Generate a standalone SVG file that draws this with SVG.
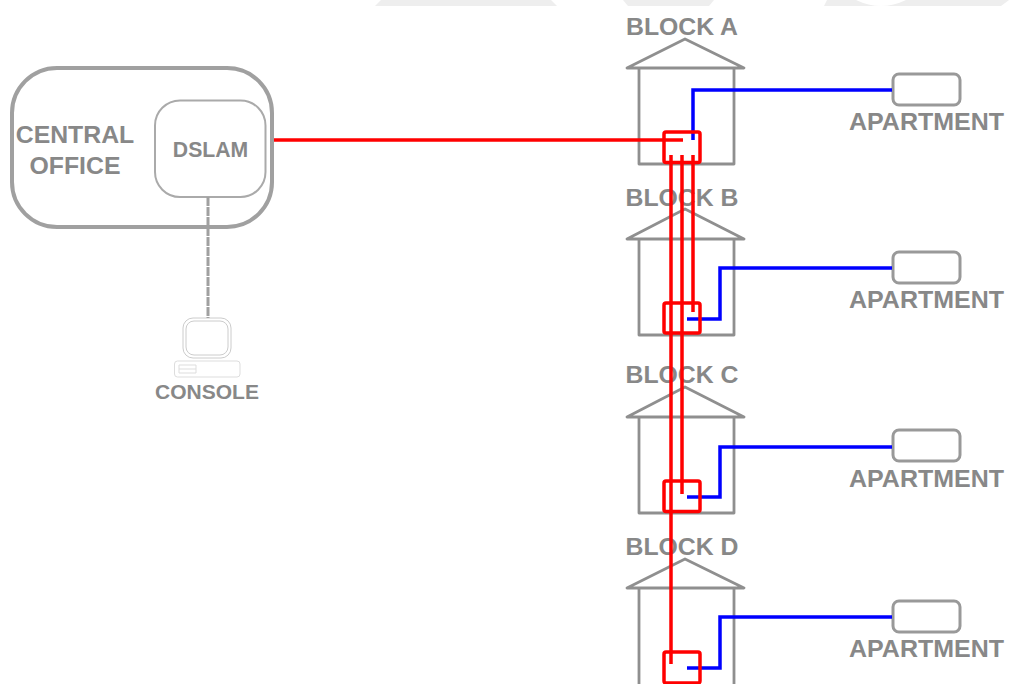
<svg xmlns="http://www.w3.org/2000/svg" width="1009" height="684" viewBox="0 0 1009 684">
<style>
text{font-family:"Liberation Sans",Arial,sans-serif;font-weight:700;fill:#888;text-anchor:middle}
.l{font-size:24.8px}
.house{fill:none;stroke:#8f8f8f;stroke-width:2.8;stroke-linejoin:round}
.apt{fill:#fff;stroke:#999;stroke-width:3}
.box{fill:none;stroke:#f00;stroke-width:3.500}
.red{fill:none;stroke:#f00;stroke-width:3.500}
.blue{fill:none;stroke:#00f;stroke-width:3.500}
</style>
<rect width="1009" height="684" fill="#fff"/>
<g id="background" fill="#eee">
<polygon points="381,0 551,0 557,6 375,6"/>
<polygon points="623,0 714,0 709,6 628,6"/>
<path d="M827,0H856Q881,12 906,0H1009L1001,6H824Z"/>
</g>
<g id="central-office">
<rect x="12" y="68" width="260" height="159" rx="45" fill="#fff" stroke="#a0a0a0" stroke-width="4"/>
<text class="l" x="75" y="143">CENTRAL</text>
<text class="l" x="75" y="174">OFFICE</text>
</g>
<g id="dslam">
<rect x="155" y="100.500" width="110.500" height="96.500" rx="25" fill="#fff" stroke="#aaa" stroke-width="2"/>
<text x="210.500" y="157" font-size="21.200">DSLAM</text>
</g>
<g id="console">
<rect x="183" y="318" width="48" height="40" rx="10" fill="#fff" stroke="#ccc"/>
<rect x="186" y="321" width="42" height="34" rx="8" fill="#fff" stroke="#ccc"/>
<rect x="174.500" y="361" width="65.500" height="16" rx="3" fill="#fff" stroke="#ddd"/>
<path d="M179,365H196V373H179ZM179,369H196" fill="none" stroke="#ddd"/>
<text x="207" y="399" font-size="21">CONSOLE</text>
</g>
<g id="block-a">
<text class="l" x="682" y="35">BLOCK A</text>
<path class="house" d="M627,68L685,39L744,68ZM639,68V164H734V68"/>
</g>
<g id="block-b">
<text class="l" x="682" y="206">BLOCK B</text>
<path class="house" d="M627,239L685,209L744,239ZM639,239V335H734V239"/>
</g>
<g id="block-c">
<text class="l" x="682" y="383">BLOCK C</text>
<path class="house" d="M627,417L685,387L744,417ZM639,417V513H734V417"/>
</g>
<g id="block-d">
<text class="l" x="682" y="555">BLOCK D</text>
<path class="house" d="M627,588L685,559L744,588ZM639,588V690H734V588"/>
</g>
<g id="apartment-a">
<rect class="apt" x="893" y="74" width="67" height="31" rx="6"/>
<text class="l" x="926.500" y="130" textLength="155" lengthAdjust="spacingAndGlyphs">APARTMENT</text>
</g>
<g id="apartment-b">
<rect class="apt" x="893" y="252" width="67" height="31" rx="6"/>
<text class="l" x="926.500" y="308" textLength="155" lengthAdjust="spacingAndGlyphs">APARTMENT</text>
</g>
<g id="apartment-c">
<rect class="apt" x="893" y="430" width="67" height="31" rx="6"/>
<text class="l" x="926.500" y="487" textLength="155" lengthAdjust="spacingAndGlyphs">APARTMENT</text>
</g>
<g id="apartment-d">
<rect class="apt" x="893" y="601" width="67" height="31" rx="6"/>
<text class="l" x="926.500" y="657" textLength="155" lengthAdjust="spacingAndGlyphs">APARTMENT</text>
</g>
<g id="connectors">
<path d="M208,197V318" fill="none" stroke="#a0a0a0" stroke-width="3" stroke-dasharray="9 1"/>
<path class="red" d="M274,140H683M671,155V664M682,155V494M693,155V312"/>
<path class="blue" d="M693,140V90H892M687,319H720V268H892M687,497H720V447H892M687,668H720V617H892"/>
<rect class="box" x="664" y="132" width="36" height="30.500" rx="2"/>
<rect class="box" x="664" y="303" width="36" height="30" rx="2"/>
<rect class="box" x="664" y="481" width="36" height="30.500" rx="2"/>
<rect class="box" x="664" y="652" width="36" height="31" rx="2"/>
</g>
</svg>
